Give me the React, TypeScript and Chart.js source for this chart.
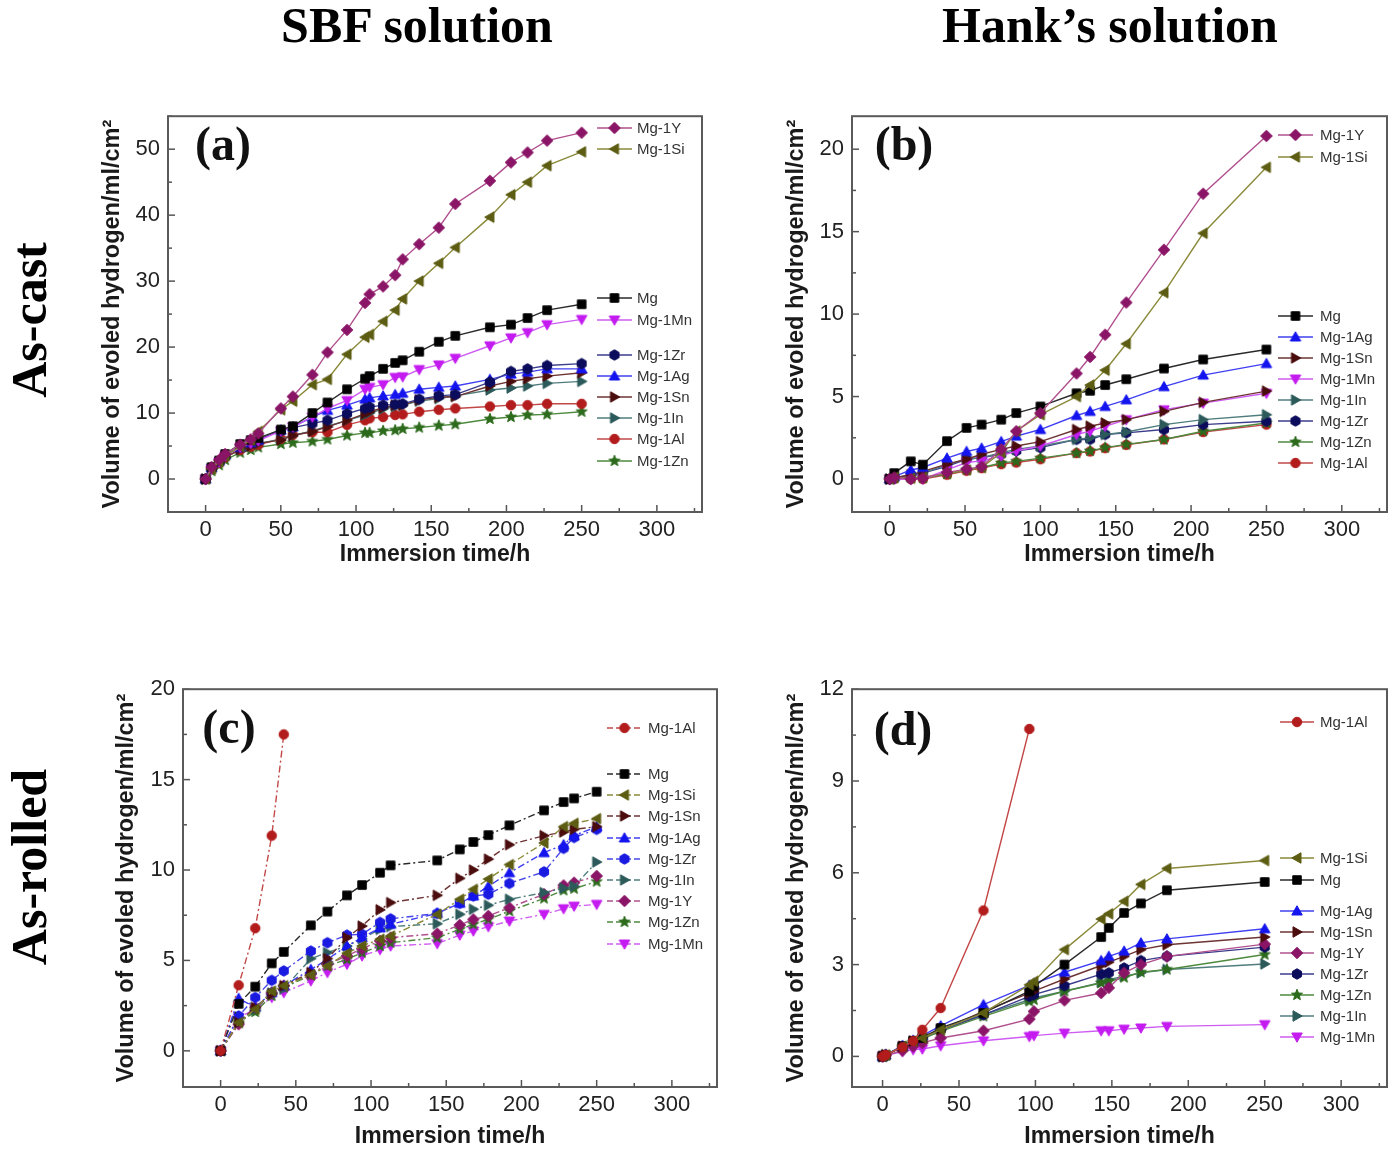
import React, { useEffect, useRef } from "react";
import { Chart, registerables } from "chart.js";

Chart.register(...registerables);

// ================= DATA =================
const X_TICKS = [0, 50, 100, 150, 200, 250, 300];

// (a) As-cast, SBF solution
const A_Y_TICKS = [0, 10, 20, 30, 40, 50];
const A_TIME = [0, 4, 9, 13, 23, 30, 35, 50, 58, 71, 81, 94, 106, 109, 118, 126, 131, 142, 155, 166, 189, 203, 214, 227, 250];
const A_MG_1Y = [0, 1.8, 2.9, 3.8, 5.2, 6.0, 6.9, 10.7, 12.5, 15.8, 19.2, 22.6, 26.7, 28.0, 29.2, 30.9, 33.3, 35.6, 38.1, 41.7, 45.2, 48.0, 49.5, 51.3, 52.5];
const A_MG_1SI = [0, 1.5, 2.6, 3.5, 4.9, 5.9, 7.2, 10.5, 11.8, 14.3, 15.1, 18.9, 21.5, 21.9, 23.9, 25.6, 27.3, 30.0, 32.7, 35.1, 39.7, 43.1, 45.0, 47.5, 49.6];
const A_MG = [0, 1.8, 2.8, 3.8, 5.3, 5.9, 6.2, 7.5, 8.0, 10.0, 11.6, 13.6, 15.2, 15.6, 16.7, 17.6, 18.0, 19.3, 20.8, 21.7, 23.0, 23.4, 24.4, 25.6, 26.5];
const A_MG_1MN = [0, 1.6, 2.6, 3.5, 4.8, 5.4, 5.8, 7.3, 7.9, 9.4, 10.7, 11.9, 13.6, 13.9, 14.3, 15.4, 15.5, 16.6, 17.3, 18.3, 20.2, 21.4, 22.2, 23.4, 24.2];
const A_MG_1ZR = [0, 1.7, 2.7, 3.6, 4.9, 5.6, 6.0, 7.3, 7.8, 8.4, 8.9, 9.9, 10.7, 10.9, 11.2, 11.3, 11.4, 12.1, 12.6, 12.8, 14.7, 16.3, 16.7, 17.2, 17.5];
const A_MG_1AG = [0, 1.7, 2.7, 3.6, 4.8, 5.5, 5.9, 7.4, 7.9, 9.4, 10.4, 11.2, 12.1, 12.3, 12.6, 12.8, 13.0, 13.6, 13.9, 14.1, 15.1, 15.9, 16.2, 16.7, 16.7];
const A_MG_1SN = [0, 1.5, 2.5, 3.3, 4.5, 5.0, 5.4, 5.9, 6.6, 7.2, 7.9, 8.9, 9.9, 10.2, 10.8, 11.2, 11.2, 12.0, 12.4, 12.5, 14.1, 14.8, 15.2, 15.6, 16.1];
const A_MG_1IN = [0, 1.5, 2.5, 3.3, 4.5, 5.0, 5.4, 6.0, 6.6, 7.3, 8.0, 8.9, 9.7, 10.0, 10.6, 11.0, 11.2, 11.8, 12.2, 12.6, 13.5, 13.8, 14.1, 14.5, 14.8];
const A_MG_1AL = [0, 1.5, 2.5, 3.3, 4.4, 4.9, 5.2, 6.1, 6.7, 7.1, 7.1, 8.2, 8.9, 9.2, 9.4, 9.7, 9.8, 10.2, 10.5, 10.7, 11.0, 11.2, 11.2, 11.4, 11.4];
const A_MG_1ZN = [0, 1.2, 2.1, 2.9, 4.0, 4.4, 4.8, 5.3, 5.5, 5.7, 6.0, 6.6, 7.0, 7.0, 7.3, 7.4, 7.6, 7.8, 8.1, 8.3, 9.1, 9.4, 9.7, 9.8, 10.2];

// (b) As-cast, Hank's solution
const B_Y_TICKS = [0, 5, 10, 15, 20];
const B_TIME = [0, 3, 14, 22, 38, 51, 61, 74, 84, 100, 124, 133, 143, 157, 182, 208, 250];
const B_MG_1Y = [0, 0.1, 0, 0.05, 0.4, 0.6, 0.75, 1.8, 2.9, 4.0, 6.4, 7.4, 8.75, 10.7, 13.9, 17.3, 20.8];
const B_MG_1SI = [0, 0.1, 0.05, 0.1, 0.35, 0.55, 0.7, 1.6, 2.9, 3.9, 5.0, 5.7, 6.6, 8.2, 11.3, 14.9, 18.9];
const B_MG = [0, 0.36, 1.07, 0.87, 2.3, 3.1, 3.3, 3.6, 4.0, 4.4, 5.2, 5.35, 5.7, 6.05, 6.7, 7.25, 7.85];
const B_MG_1AG = [0, 0.15, 0.55, 0.7, 1.27, 1.67, 1.87, 2.27, 2.6, 3.0, 3.85, 4.1, 4.4, 4.8, 5.6, 6.3, 7.0];
const B_MG_1SN = [0, 0.06, 0.26, 0.46, 0.9, 1.2, 1.5, 1.8, 2.0, 2.27, 3.0, 3.2, 3.4, 3.6, 4.1, 4.65, 5.33];
const B_MG_1MN = [0, 0, 0, 0, 0.56, 1.0, 1.1, 1.4, 1.7, 2.0, 2.7, 2.9, 3.2, 3.6, 4.2, 4.6, 5.2];
const B_MG_1IN = [0, 0.06, 0.16, 0.36, 0.87, 1.2, 1.3, 1.6, 1.8, 2.0, 2.4, 2.5, 2.7, 2.85, 3.3, 3.6, 3.9];
const B_MG_1ZR = [0, 0.06, 0.26, 0.36, 0.77, 1.2, 1.3, 1.5, 1.7, 1.9, 2.4, 2.4, 2.7, 2.8, 3.0, 3.3, 3.5];
const B_MG_1ZN = [0, 0.06, 0.1, 0.06, 0.3, 0.56, 0.7, 0.97, 1.07, 1.27, 1.57, 1.7, 1.9, 2.1, 2.4, 2.9, 3.4];
const B_MG_1AL = [0, 0, 0, 0, 0.26, 0.5, 0.66, 0.9, 1.0, 1.2, 1.57, 1.67, 1.87, 2.07, 2.4, 2.85, 3.3];

// (c) As-rolled, SBF solution
const C_Y_TICKS = [0, 5, 10, 15, 20];
const C_TIME_AL = [0, 12, 23, 34, 42];
const C_MG_1AL = [0, 3.63, 6.78, 11.9, 17.5];
const C_TIME = [0, 12, 23, 34, 42, 60, 71, 84, 94, 106, 113, 144, 159, 168, 178, 192, 215, 228, 235, 250];
const C_MG = [0, 2.6, 3.55, 4.84, 5.47, 6.94, 7.7, 8.6, 9.17, 9.85, 10.26, 10.53, 11.14, 11.55, 11.93, 12.47, 13.3, 13.76, 13.96, 14.33];
const C_MG_1SI = [0, 1.57, 2.3, 3.3, 3.6, 4.2, 4.7, 5.4, 5.8, 6.17, 6.35, 7.55, 8.38, 8.93, 9.5, 10.3, 11.5, 12.4, 12.58, 12.84];
const C_MG_1SN = [0, 1.57, 2.4, 3.13, 3.6, 4.33, 5.1, 6.26, 6.9, 7.8, 8.2, 8.6, 9.54, 10.0, 10.6, 11.4, 11.9, 12.1, 12.25, 12.4];
const C_MG_1AG = [0, 2.9, 2.4, 3.22, 3.6, 4.5, 5.06, 5.8, 6.26, 6.8, 7.0, 7.6, 8.16, 8.56, 9.1, 9.85, 10.96, 11.4, 11.9, 12.4];
const C_MG_1ZR = [0, 1.93, 2.95, 3.9, 4.42, 5.52, 5.98, 6.4, 6.45, 7.1, 7.3, 7.6, 8.16, 8.56, 8.66, 9.26, 9.9, 11.2, 11.8, 12.25];
const C_MG_1IN = [0, 1.57, 2.3, 3.2, 3.44, 5.1, 5.43, 5.8, 6.2, 6.72, 6.87, 7.03, 7.55, 7.83, 8.05, 8.38, 8.75, 9.0, 9.1, 10.44];
const C_MG_1Y = [0, 1.47, 2.4, 3.22, 3.6, 4.24, 4.79, 5.25, 5.65, 6.08, 6.26, 6.48, 6.96, 7.27, 7.46, 7.92, 8.66, 9.15, 9.3, 9.67];
const C_MG_1ZN = [0, 1.57, 2.15, 3.04, 3.5, 4.18, 4.7, 5.06, 5.43, 5.8, 5.98, 6.26, 6.72, 7.0, 7.27, 7.73, 8.43, 8.88, 8.97, 9.36];
const C_MG_1MN = [0, 1.84, 2.3, 2.95, 3.22, 3.87, 4.33, 4.79, 5.25, 5.6, 5.8, 5.93, 6.4, 6.63, 6.87, 7.18, 7.55, 7.86, 8.0, 8.1];

// (d) As-rolled, Hank's solution
const D_Y_TICKS = [0, 3, 6, 9, 12];
const D_TIME_AL = [0, 2, 13, 20, 26, 38, 66, 96];
const D_MG_1AL = [0, 0.05, 0.3, 0.5, 0.87, 1.58, 4.77, 10.7];
const D_TIME = [0, 2, 13, 20, 26, 38, 66, 96, 99, 119, 143, 148, 158, 169, 186, 250];
const D_MG_1SI = [0, 0.05, 0.33, 0.5, 0.6, 0.87, 1.42, 2.34, 2.45, 3.49, 4.49, 4.66, 5.07, 5.62, 6.14, 6.4];
const D_MG = [0, 0.03, 0.33, 0.51, 0.6, 0.93, 1.42, 2.13, 2.29, 3.0, 3.9, 4.2, 4.69, 5.0, 5.43, 5.7];
const D_MG_1AG = [0, 0.05, 0.35, 0.52, 0.68, 1.0, 1.69, 2.32, 2.38, 2.75, 3.13, 3.27, 3.44, 3.71, 3.84, 4.17];
const D_MG_1SN = [0, 0.05, 0.33, 0.5, 0.65, 0.87, 1.47, 2.07, 2.13, 2.53, 2.97, 3.08, 3.27, 3.49, 3.65, 3.9];
const D_MG_1Y = [0, 0.03, 0.19, 0.33, 0.44, 0.6, 0.84, 1.22, 1.47, 1.83, 2.07, 2.24, 2.73, 3.0, 3.27, 3.67];
const D_MG_1ZR = [0, 0.05, 0.33, 0.49, 0.6, 0.87, 1.36, 1.96, 2.02, 2.31, 2.69, 2.73, 2.89, 3.13, 3.27, 3.57];
const D_MG_1ZN = [0, 0.05, 0.3, 0.47, 0.57, 0.82, 1.31, 1.8, 1.85, 2.13, 2.4, 2.45, 2.58, 2.75, 2.84, 3.33];
const D_MG_1IN = [0, 0.05, 0.3, 0.47, 0.57, 0.85, 1.36, 1.85, 1.91, 2.13, 2.42, 2.51, 2.62, 2.73, 2.84, 3.02];
const D_MG_1MN = [0, 0.03, 0.16, 0.22, 0.24, 0.35, 0.51, 0.65, 0.68, 0.76, 0.84, 0.84, 0.89, 0.93, 0.98, 1.04];

// ================= STYLES =================
type Style = { shape: string; mark: string; line: string };
const STYLE: Record<string, Style> = {
  "Mg": { shape: "square", mark: "#000000", line: "#2a2a2a" },
  "Mg-1Y": { shape: "diamond", mark: "#8a1466", line: "#b0508e" },
  "Mg-1Si": { shape: "left", mark: "#5c5c12", line: "#8a8a3a" },
  "Mg-1Mn": { shape: "down", mark: "#c41cf0", line: "#cf5cf2" },
  "Mg-1Zr": { shape: "hexagon", mark: "#0c0c5c", line: "#3c3c8c" },
  "Mg-1Ag": { shape: "up", mark: "#1414ee", line: "#4040f2" },
  "Mg-1Sn": { shape: "right", mark: "#4a0c0c", line: "#6e3434" },
  "Mg-1In": { shape: "right", mark: "#2c5a5a", line: "#4f7c7c" },
  "Mg-1Al": { shape: "circle", mark: "#b21c1c", line: "#c24848" },
  "Mg-1Zn": { shape: "star", mark: "#2c6a1c", line: "#4e8a3e" },
};

type Rect = { left: number; top: number; width: number; height: number };
type Area = { left: number; top: number; right: number; bottom: number };
type PanelDef = {
  label: string;
  canvas: Rect;
  area: Area;
  xMin: number; xMax: number;
  yMin: number; yMax: number;
  yTicks: number[]; yMinor: number;
  series: [string, number[], number[]][];
  dashed: boolean;
  override?: Record<string, Partial<Style>>;
  legend: { x1: number; x2: number; tx: number; items: [string, number][] };
  labelPos: [number, number];
  yTitleX: number; xTitleY: number;
};

const PANELS: PanelDef[] = [
  {
    label: "(a)",
    canvas: { left: 90, top: 95, width: 640, height: 485 },
    area: { left: 168, top: 113, right: 702, bottom: 512 },
    xMin: -25, xMax: 330, yMin: -5, yMax: 55, yTicks: A_Y_TICKS, yMinor: 5,
    series: [
      ["Mg-1Y", A_TIME, A_MG_1Y], ["Mg-1Si", A_TIME, A_MG_1SI], ["Mg", A_TIME, A_MG],
      ["Mg-1Mn", A_TIME, A_MG_1MN], ["Mg-1Zr", A_TIME, A_MG_1ZR], ["Mg-1Ag", A_TIME, A_MG_1AG],
      ["Mg-1Sn", A_TIME, A_MG_1SN], ["Mg-1In", A_TIME, A_MG_1IN], ["Mg-1Al", A_TIME, A_MG_1AL],
      ["Mg-1Zn", A_TIME, A_MG_1ZN],
    ],
    dashed: false,
    legend: { x1: 597, x2: 632, tx: 637, items: [["Mg-1Y", 128], ["Mg-1Si", 149], ["Mg", 298], ["Mg-1Mn", 320], ["Mg-1Zr", 355], ["Mg-1Ag", 376], ["Mg-1Sn", 397], ["Mg-1In", 418], ["Mg-1Al", 439], ["Mg-1Zn", 461]] },
    labelPos: [223, 148], yTitleX: 113, xTitleY: 555,
  },
  {
    label: "(b)",
    canvas: { left: 775, top: 95, width: 619, height: 485 },
    area: { left: 852, top: 113, right: 1387, bottom: 512 },
    xMin: -25, xMax: 330, yMin: -2, yMax: 22, yTicks: B_Y_TICKS, yMinor: 2.5,
    series: [
      ["Mg-1Y", B_TIME, B_MG_1Y], ["Mg-1Si", B_TIME, B_MG_1SI], ["Mg", B_TIME, B_MG],
      ["Mg-1Ag", B_TIME, B_MG_1AG], ["Mg-1Sn", B_TIME, B_MG_1SN], ["Mg-1Mn", B_TIME, B_MG_1MN],
      ["Mg-1In", B_TIME, B_MG_1IN], ["Mg-1Zr", B_TIME, B_MG_1ZR], ["Mg-1Zn", B_TIME, B_MG_1ZN],
      ["Mg-1Al", B_TIME, B_MG_1AL],
    ],
    dashed: false,
    legend: { x1: 1278, x2: 1313, tx: 1320, items: [["Mg-1Y", 135], ["Mg-1Si", 157], ["Mg", 316], ["Mg-1Ag", 337], ["Mg-1Sn", 358], ["Mg-1Mn", 379], ["Mg-1In", 400], ["Mg-1Zr", 421], ["Mg-1Zn", 442], ["Mg-1Al", 463]] },
    labelPos: [904, 148], yTitleX: 797, xTitleY: 555,
  },
  {
    label: "(c)",
    canvas: { left: 105, top: 668, width: 625, height: 485 },
    area: { left: 183, top: 688, right: 717, bottom: 1087 },
    xMin: -25, xMax: 330, yMin: -2, yMax: 20, yTicks: C_Y_TICKS, yMinor: 2.5,
    series: [
      ["Mg-1Al", C_TIME_AL, C_MG_1AL], ["Mg", C_TIME, C_MG], ["Mg-1Si", C_TIME, C_MG_1SI],
      ["Mg-1Sn", C_TIME, C_MG_1SN], ["Mg-1Ag", C_TIME, C_MG_1AG], ["Mg-1Zr", C_TIME, C_MG_1ZR],
      ["Mg-1In", C_TIME, C_MG_1IN], ["Mg-1Y", C_TIME, C_MG_1Y], ["Mg-1Zn", C_TIME, C_MG_1ZN],
      ["Mg-1Mn", C_TIME, C_MG_1MN],
    ],
    dashed: true,
    override: { "Mg-1Zr": { mark: "#1a1ae0", line: "#4848e8" } },
    legend: { x1: 607, x2: 642, tx: 648, items: [["Mg-1Al", 728], ["Mg", 774], ["Mg-1Si", 795], ["Mg-1Sn", 816], ["Mg-1Ag", 838], ["Mg-1Zr", 859], ["Mg-1In", 880], ["Mg-1Y", 901], ["Mg-1Zn", 922], ["Mg-1Mn", 944]] },
    labelPos: [229, 731], yTitleX: 127, xTitleY: 1137,
  },
  {
    label: "(d)",
    canvas: { left: 775, top: 668, width: 619, height: 485 },
    area: { left: 852, top: 688, right: 1387, bottom: 1087 },
    xMin: -20, xMax: 330, yMin: -1, yMax: 12, yTicks: D_Y_TICKS, yMinor: 1.5,
    series: [
      ["Mg-1Al", D_TIME_AL, D_MG_1AL], ["Mg-1Si", D_TIME, D_MG_1SI], ["Mg", D_TIME, D_MG],
      ["Mg-1Ag", D_TIME, D_MG_1AG], ["Mg-1Sn", D_TIME, D_MG_1SN], ["Mg-1Y", D_TIME, D_MG_1Y],
      ["Mg-1Zr", D_TIME, D_MG_1ZR], ["Mg-1Zn", D_TIME, D_MG_1ZN], ["Mg-1In", D_TIME, D_MG_1IN],
      ["Mg-1Mn", D_TIME, D_MG_1MN],
    ],
    dashed: false,
    legend: { x1: 1280, x2: 1314, tx: 1320, items: [["Mg-1Al", 722], ["Mg-1Si", 858], ["Mg", 880], ["Mg-1Ag", 911], ["Mg-1Sn", 932], ["Mg-1Y", 953], ["Mg-1Zr", 974], ["Mg-1Zn", 995], ["Mg-1In", 1016], ["Mg-1Mn", 1037]] },
    labelPos: [903, 733], yTitleX: 797, xTitleY: 1137,
  },
];

const SANS = '"Liberation Sans", Arial, Helvetica, sans-serif';
const SERIF = '"Liberation Serif", "Times New Roman", serif';
const DASH = [7, 3, 2, 3];
const Y_TITLE_SIZE = 23.5;
const X_TITLE_SIZE = 23;

function makeMarker(shape: string, color: string, r: number): HTMLCanvasElement {
  const s = Math.ceil(r * 2 + 6);
  const c = document.createElement("canvas");
  c.width = s;
  c.height = s;
  const ctx = c.getContext("2d") as CanvasRenderingContext2D;
  const cx = s / 2, cy = s / 2;
  ctx.fillStyle = color;
  ctx.strokeStyle = color;
  ctx.lineWidth = 1;
  ctx.beginPath();
  const poly = (pts: [number, number][]) => {
    pts.forEach(([x, y], i) => (i === 0 ? ctx.moveTo(cx + x, cy + y) : ctx.lineTo(cx + x, cy + y)));
  };
  switch (shape) {
    case "square": ctx.rect(cx - r * 0.85, cy - r * 0.85, r * 1.7, r * 1.7); break;
    case "circle": ctx.arc(cx, cy, r * 0.95, 0, Math.PI * 2); break;
    case "diamond": poly([[0, -r * 1.15], [r * 1.15, 0], [0, r * 1.15], [-r * 1.15, 0]]); break;
    case "up": poly([[0, -r * 1.05], [r * 1.05, r * 0.8], [-r * 1.05, r * 0.8]]); break;
    case "down": poly([[0, r * 1.05], [r * 1.05, -r * 0.8], [-r * 1.05, -r * 0.8]]); break;
    case "left": poly([[-r * 1.05, 0], [r * 0.8, -r * 1.05], [r * 0.8, r * 1.05]]); break;
    case "right": poly([[r * 1.05, 0], [-r * 0.8, -r * 1.05], [-r * 0.8, r * 1.05]]); break;
    case "hexagon": {
      const pts: [number, number][] = [];
      for (let i = 0; i < 6; i++) {
        const a = Math.PI / 6 + (i * Math.PI) / 3;
        pts.push([Math.cos(a) * r * 1.05, Math.sin(a) * r * 1.05]);
      }
      poly(pts);
      break;
    }
    case "star": {
      const pts: [number, number][] = [];
      for (let i = 0; i < 10; i++) {
        const a = -Math.PI / 2 + (i * Math.PI) / 5;
        const rr = i % 2 === 0 ? r * 1.15 : r * 0.5;
        pts.push([Math.cos(a) * rr, Math.sin(a) * rr]);
      }
      poly(pts);
      break;
    }
  }
  ctx.closePath();
  ctx.fill();
  ctx.stroke();
  return c;
}

function Panel({ def }: { def: PanelDef }) {
  const ref = useRef<HTMLCanvasElement | null>(null);
  useEffect(() => {
    const canvas = ref.current;
    if (!canvas) return;
    const cv = def.canvas;
    const ar = def.area;
    const styleOf = (name: string): Style => ({ ...STYLE[name], ...(def.override?.[name] || {}) });
    const markers: Record<string, HTMLCanvasElement> = {};
    for (const [name] of def.series) {
      const st = styleOf(name);
      markers[name] = makeMarker(st.shape, st.mark, 5);
    }
    const datasets = def.series.map(([name, t, v]) => {
      const st = styleOf(name);
      return {
        label: name,
        data: t.map((x, i) => ({ x, y: v[i] })),
        borderColor: st.line,
        backgroundColor: st.mark,
        borderWidth: 1.4,
        borderDash: def.dashed ? DASH : [],
        pointStyle: markers[name] as any,
        pointRadius: 5,
        pointHoverRadius: 5,
        tension: 0,
        fill: false,
      };
    });

    const deco = {
      id: "deco",
      afterDraw(chart: any) {
        const { ctx, chartArea: a, scales } = chart;
        ctx.save();
        ctx.strokeStyle = "#555";
        ctx.lineWidth = 1.5;
        ctx.setLineDash([]);
        for (let v = Math.ceil(def.xMin / 25) * 25; v < def.xMax; v += 25) {
          if (v <= def.xMin) continue;
          const p = scales.x.getPixelForValue(v);
          const len = v % 50 === 0 ? 7 : 4;
          ctx.beginPath();
          ctx.moveTo(p, a.bottom);
          ctx.lineTo(p, a.bottom - len);
          ctx.stroke();
        }
        const major = def.yTicks[1] - def.yTicks[0];
        for (let k = Math.ceil(def.yMin / def.yMinor); k * def.yMinor < def.yMax + 1e-9; k++) {
          const v = k * def.yMinor;
          if (v <= def.yMin) continue;
          const p = scales.y.getPixelForValue(v);
          const isMajor = Math.abs(v / major - Math.round(v / major)) < 1e-6;
          ctx.beginPath();
          ctx.moveTo(a.left, p);
          ctx.lineTo(a.left + (isMajor ? 7 : 4), p);
          ctx.stroke();
        }
        ctx.strokeStyle = "#5a5a5a";
        ctx.lineWidth = 2;
        ctx.strokeRect(a.left, a.top, a.right - a.left, a.bottom - a.top);
        const L = def.legend;
        ctx.font = `15px ${SANS}`;
        ctx.textBaseline = "middle";
        ctx.textAlign = "left";
        for (const [name, py] of L.items) {
          const st = styleOf(name);
          const y = py - cv.top;
          const x1 = L.x1 - cv.left, x2 = L.x2 - cv.left;
          ctx.strokeStyle = st.line;
          ctx.lineWidth = 1.4;
          ctx.setLineDash(def.dashed ? [6, 3] : []);
          ctx.beginPath();
          ctx.moveTo(x1, y);
          ctx.lineTo(x2, y);
          ctx.stroke();
          ctx.setLineDash([]);
          const m = markers[name];
          ctx.drawImage(m, (x1 + x2) / 2 - m.width / 2, y - m.height / 2);
          ctx.fillStyle = "#333";
          ctx.fillText(name, L.tx - cv.left, y + 1);
        }
        ctx.font = `bold 48px ${SERIF}`;
        ctx.textAlign = "center";
        ctx.textBaseline = "middle";
        ctx.fillStyle = "#111";
        ctx.fillText(def.label, def.labelPos[0] - cv.left, def.labelPos[1] - cv.top);
        ctx.restore();
      },
    };

    const chart = new Chart(canvas, {
      type: "line",
      data: { datasets } as any,
      options: {
        animation: false,
        responsive: false,
        maintainAspectRatio: false,
        events: [],
        layout: {
          padding: { left: 0, top: ar.top - cv.top, right: cv.left + cv.width - ar.right, bottom: 0 },
        },
        plugins: { legend: { display: false }, tooltip: { enabled: false } },
        scales: {
          x: {
            type: "linear",
            min: def.xMin,
            max: def.xMax,
            afterFit: (s: any) => { s.height = cv.top + cv.height - ar.bottom; },
            afterBuildTicks: (s: any) => { s.ticks = X_TICKS.map((v) => ({ value: v })); },
            grid: { display: false, drawTicks: false },
            border: { display: false },
            ticks: { padding: 5, autoSkip: false, maxRotation: 0, color: "#222", font: { size: 22, family: SANS } },
            title: {
              display: true,
              text: "Immersion time/h",
              color: "#1a1a1a",
              font: { size: X_TITLE_SIZE, weight: "bold", family: SANS },
              padding: { top: 0, bottom: cv.top + cv.height - def.xTitleY - X_TITLE_SIZE * 0.6 },
            },
          },
          y: {
            type: "linear",
            min: def.yMin,
            max: def.yMax,
            afterFit: (s: any) => { s.width = ar.left - cv.left; },
            afterBuildTicks: (s: any) => { s.ticks = def.yTicks.map((v) => ({ value: v })); },
            grid: { display: false, drawTicks: false },
            border: { display: false },
            ticks: { padding: 8, autoSkip: false, color: "#222", font: { size: 22, family: SANS } },
            title: {
              display: true,
              text: "Volume of evoled hydrogen/ml/cm\u00B2",
              color: "#1a1a1a",
              font: { size: Y_TITLE_SIZE, weight: "bold", family: SANS },
              padding: { top: def.yTitleX - cv.left - Y_TITLE_SIZE * 0.6, bottom: 0 },
            },
          },
        },
      } as any,
      plugins: [deco],
    });
    return () => chart.destroy();
  }, [def]);

  return (
    <canvas
      ref={ref}
      width={def.canvas.width}
      height={def.canvas.height}
      style={{ position: "absolute", left: def.canvas.left, top: def.canvas.top, width: def.canvas.width, height: def.canvas.height }}
    />
  );
}

const headStyle: React.CSSProperties = {
  position: "absolute",
  top: 0,
  font: `bold 50px ${SERIF}`,
  lineHeight: "50px",
  whiteSpace: "nowrap",
  transform: "translateX(-50%)",
  color: "#000",
};

const rowStyle = (cx: number, cy: number): React.CSSProperties => ({
  position: "absolute",
  left: cx,
  top: cy,
  font: `bold 50px ${SERIF}`,
  lineHeight: "50px",
  whiteSpace: "nowrap",
  transform: "translate(-50%, -50%) rotate(-90deg)",
  color: "#000",
});

export default function App() {
  return (
    <div style={{ position: "absolute", left: 0, top: 0, width: 1394, height: 1153, background: "#fff", overflow: "hidden" }}>
      <div style={{ ...headStyle, left: 417 }}>SBF solution</div>
      <div style={{ ...headStyle, left: 1110 }}>Hank’s solution</div>
      <div style={rowStyle(29, 320)}>As-cast</div>
      <div style={rowStyle(29, 867)}>As-rolled</div>
      {PANELS.map((p) => (
        <Panel key={p.label} def={p} />
      ))}
    </div>
  );
}
